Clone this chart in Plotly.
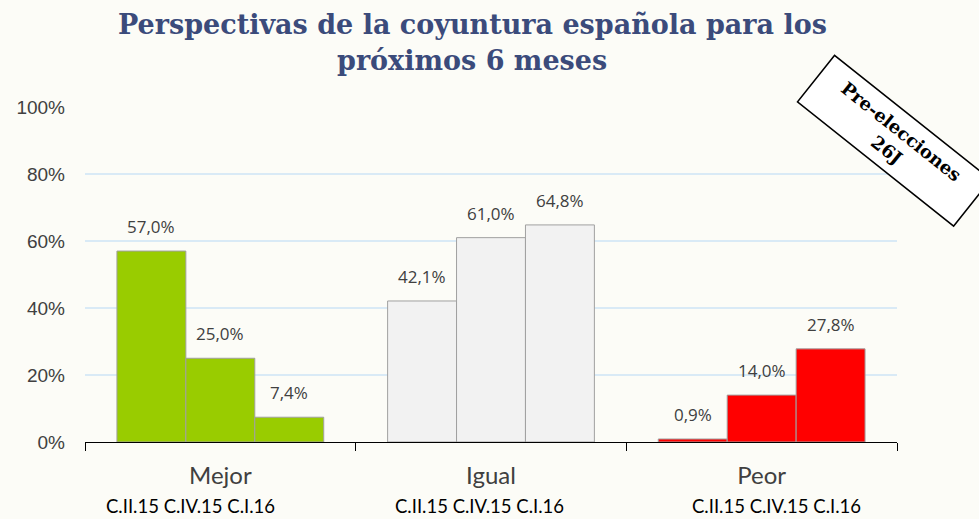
import plotly.graph_objects as go

categories = ["Mejor", "Igual", "Peor"]
periods = ["C.II.15", "C.IV.15", "C.I.16"]
# values[period][category]
values = {
    "C.II.15": [57.0, 42.1, 0.9],
    "C.IV.15": [25.0, 61.0, 14.0],
    "C.I.16": [7.4, 64.8, 27.8],
}
cat_colors = ["#99cc00", "#f2f2f2", "#ff0000"]
y_ticks = [0, 20, 40, 60, 80, 100]
y_ticktext = [f"{v}%" for v in y_ticks]
title_lines = ["Perspectivas de la coyuntura española para los", "próximos 6 meses"]

W, H = 979, 519
ML, MR, MT, MB = 85, 82, 107, 77
PW, PH = W - ML - MR, H - MT - MB


def px_x(x):
    return (x - ML) / PW


def px_y(y):
    return (H - MB - y) / PH


bargap = 0.236
bw = (1 - bargap) / len(periods)

fig = go.Figure()
for j, p in enumerate(periods):
    fig.add_trace(go.Bar(
        x=categories, y=values[p], name=p,
        marker=dict(color=cat_colors, line=dict(color="#a0a0a0", width=1)),
        showlegend=False, hoverinfo="skip",
    ))
    for i, v in enumerate(values[p]):
        fig.add_annotation(
            x=i + (j - 1) * bw, y=v, xref="x", yref="y",
            text=f"{v:.1f}".replace(".", ",") + "%",
            showarrow=False, yanchor="bottom", yshift=11,
            font=dict(family="Open Sans", size=17, color="#404040"),
        )

sub_label_px = [190, 479, 776]
for i, c in enumerate(categories):
    fig.add_annotation(
        x=px_x(sub_label_px[i]), y=px_y(506), xref="paper", yref="paper",
        yanchor="middle", xanchor="center", borderpad=0,
        text=" ".join(periods), showarrow=False,
        font=dict(family="Lato", size=18.5, color="#000000"),
    )

# title
for k, (line, yc) in enumerate(zip(title_lines, [24, 60])):
    fig.add_annotation(
        x=px_x(472), y=px_y(yc), xref="paper", yref="paper",
        xanchor="center", yanchor="middle", showarrow=False,
        text=f"<b>{line}</b>",
        font=dict(family="DejaVu Serif", size=27, color="#3b4b7b"),
    )

fig.add_annotation(
    x=px_x(894), y=px_y(140), xref="paper", yref="paper",
    text="<b>Pre-elecciones<br>26J</b>", showarrow=False,
    textangle=38.5,
    font=dict(family="DejaVu Serif", size=18, color="#000000"),
    bgcolor="#ffffff", bordercolor="#000000", borderwidth=1.5,
    width=196, height=56, xanchor="center", yanchor="middle",
)

fig.update_layout(
    width=W, height=H,
    paper_bgcolor="#fcfcf7", plot_bgcolor="#fcfcf7",
    margin=dict(l=ML, r=MR, t=MT, b=MB),
    barmode="group", bargap=bargap, bargroupgap=0,
    xaxis=dict(
        type="category", tickson="boundaries", ticks="outside", ticklen=8,
        tickcolor="#000000", showline=True, linecolor="#000000", linewidth=1,
        showgrid=False, ticklabelstandoff=12,
        tickfont=dict(family="Lato", size=24, color="#404040"),
        range=[-0.5, 2.5],
    ),
    yaxis=dict(
        range=[0, 100], tickvals=y_ticks, ticktext=y_ticktext,
        showgrid=True, gridcolor="#d9eaf6", gridwidth=2,
        zeroline=False, showline=False, ticklabelstandoff=19,
        tickfont=dict(family="Liberation Sans", size=19, color="#404040"),
    ),
)

fig.write_html(
    "out.html",
    config={"displayModeBar": False},
    post_script="document.body.style.margin='0';document.body.style.overflow='hidden';",
)
